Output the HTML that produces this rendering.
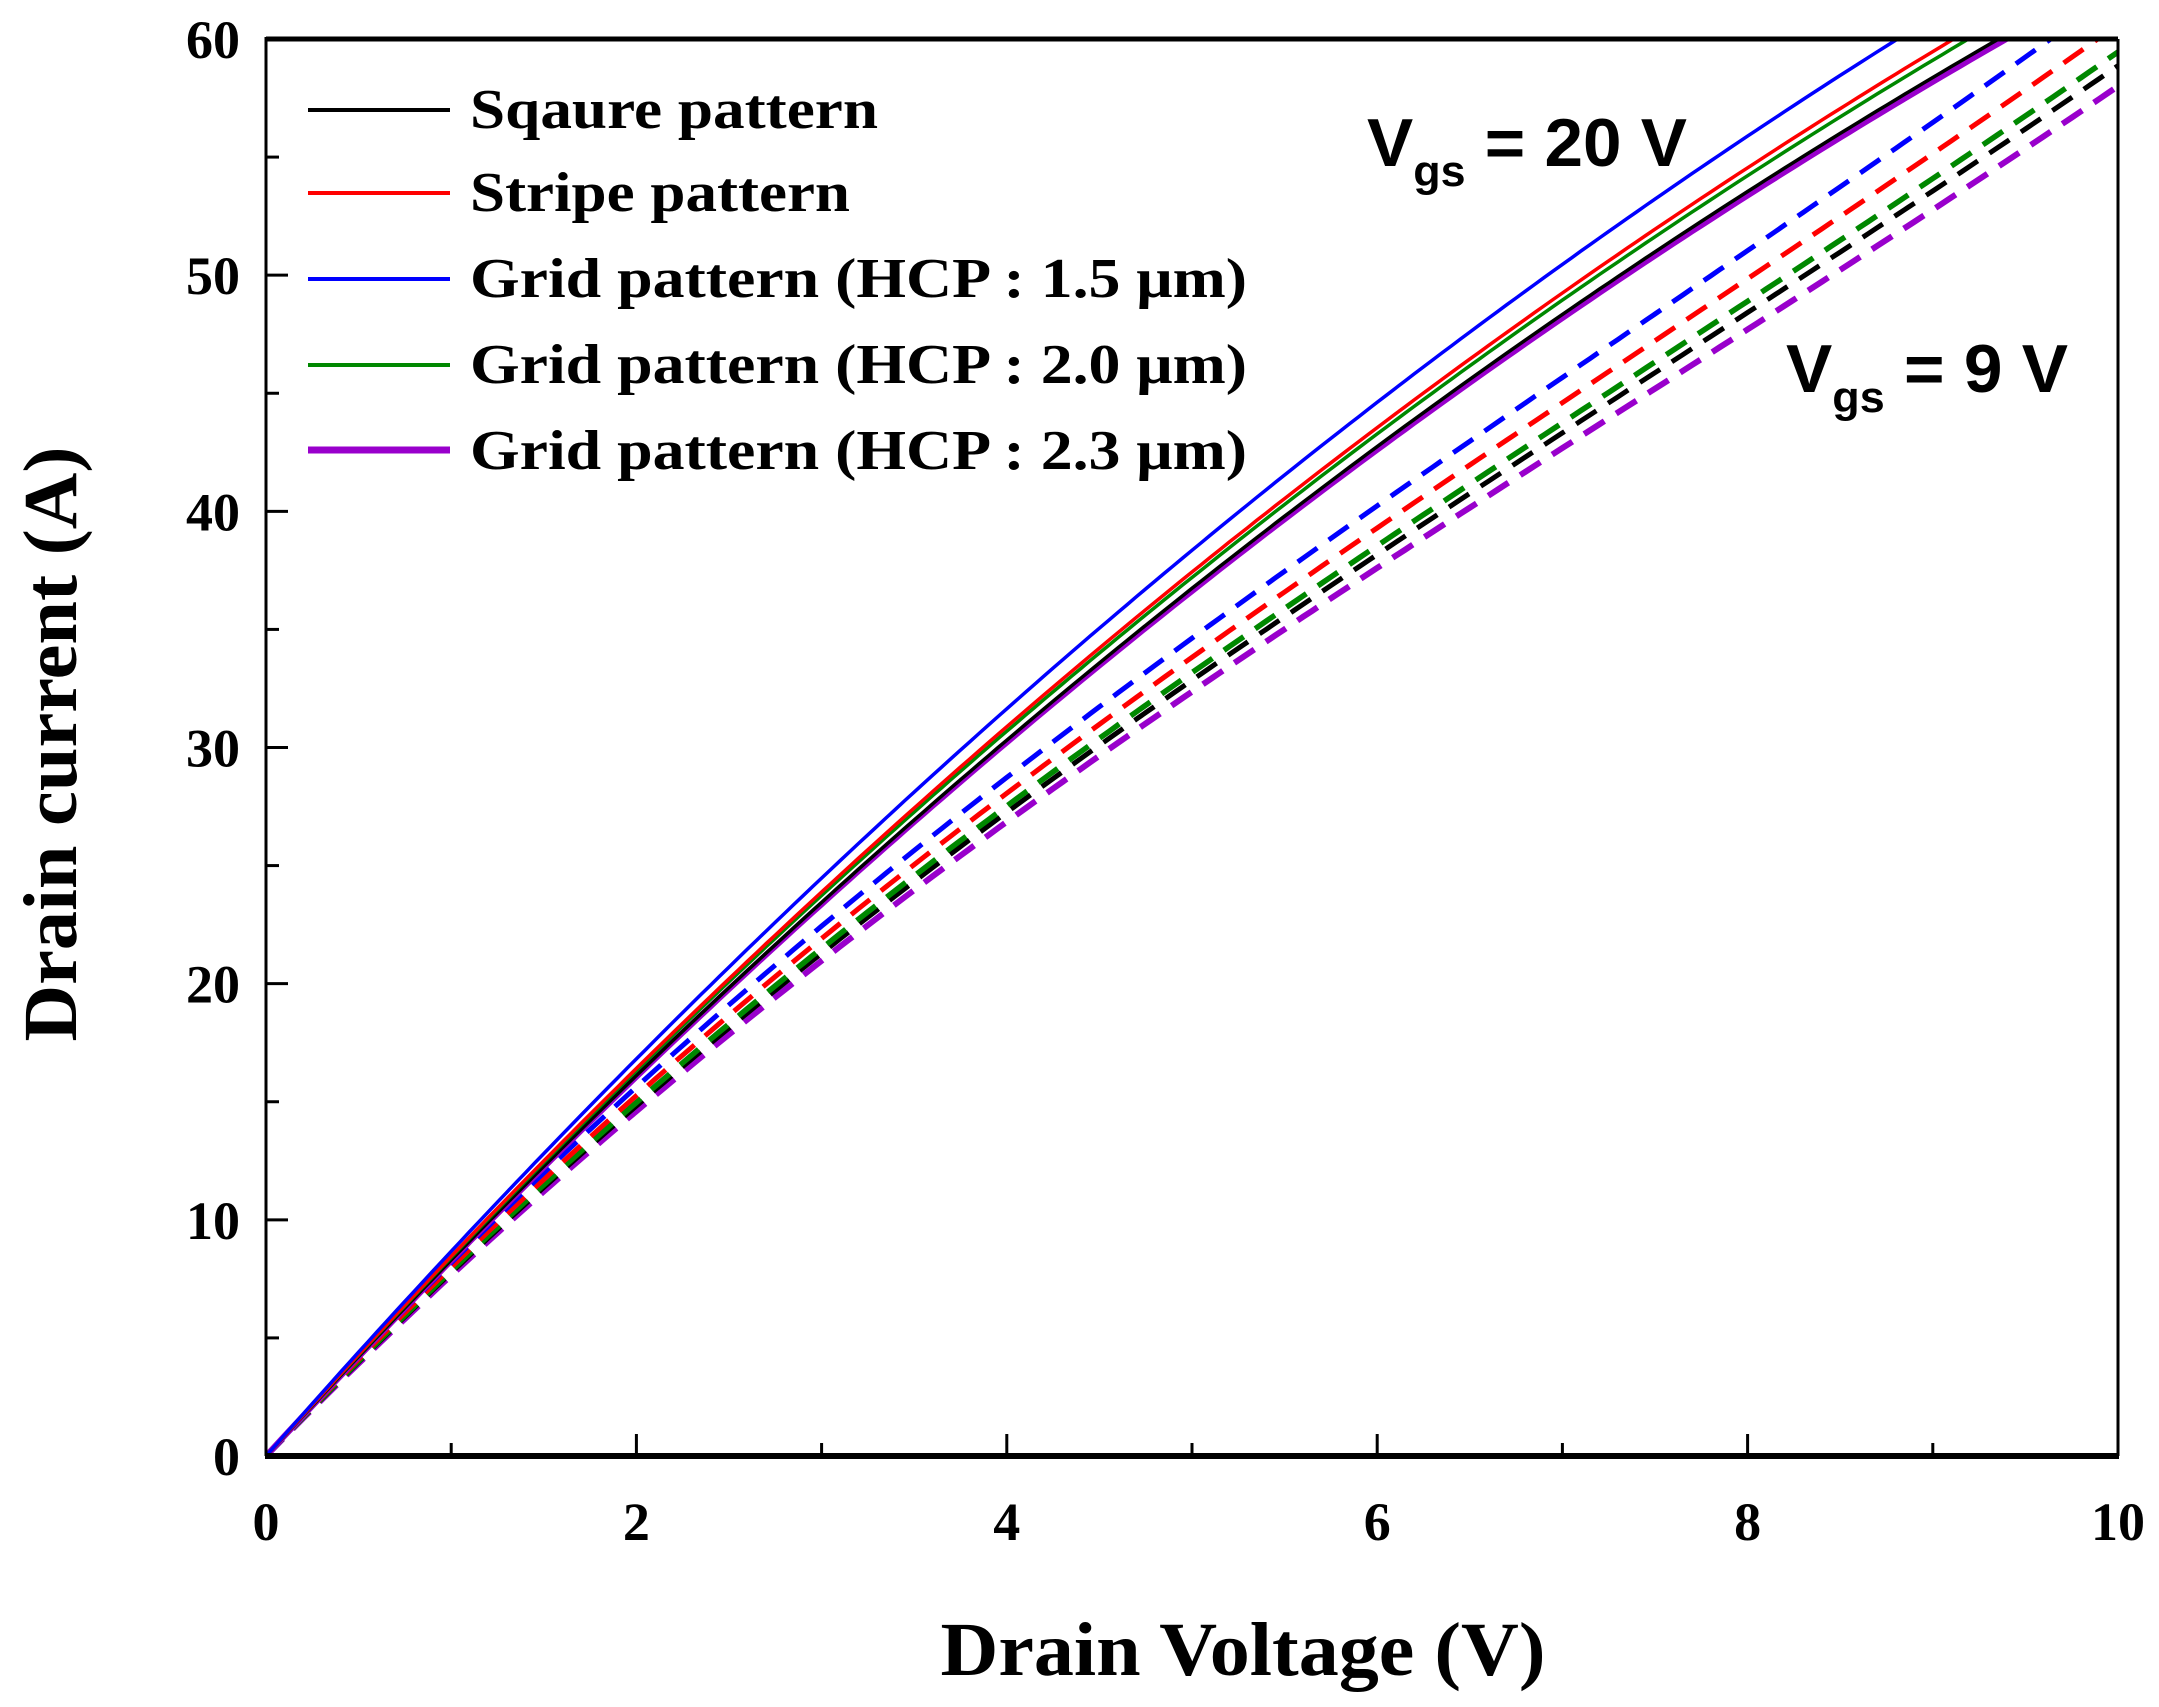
<!DOCTYPE html>
<html><head><meta charset="utf-8"><style>
html,body{margin:0;padding:0;background:#fff;}
svg{display:block;}
.t{font-family:"Liberation Serif",serif;font-weight:bold;fill:#000;}
.a{font-family:"Liberation Sans",sans-serif;font-weight:bold;fill:#000;}
</style></head><body>
<svg id="s" width="2159" height="1707" viewBox="0 0 2159 1707" xmlns="http://www.w3.org/2000/svg">
<defs><clipPath id="c"><rect x="266" y="39" width="1852" height="1417"/></clipPath></defs>
<g id="curves" clip-path="url(#c)"></g>
<g id="ax"></g>
<g class="t" font-size="56">
<line x1="308" y1="110" x2="450" y2="110" stroke="#000" stroke-width="4"/>
<text x="470" y="128" textLength="408" lengthAdjust="spacingAndGlyphs">Sqaure pattern</text>
<line x1="308" y1="193" x2="450" y2="193" stroke="#f00" stroke-width="4"/>
<text x="470" y="211" textLength="380" lengthAdjust="spacingAndGlyphs">Stripe pattern</text>
<line x1="308" y1="279" x2="450" y2="279" stroke="#00f" stroke-width="4"/>
<text x="470" y="297" textLength="777" lengthAdjust="spacingAndGlyphs">Grid pattern (HCP : 1.5 μm)</text>
<line x1="308" y1="365" x2="450" y2="365" stroke="#080" stroke-width="4"/>
<text x="470" y="383" textLength="777" lengthAdjust="spacingAndGlyphs">Grid pattern (HCP : 2.0 μm)</text>
<line x1="308" y1="450" x2="450" y2="450" stroke="#90c" stroke-width="7"/>
<text x="470" y="469" textLength="777" lengthAdjust="spacingAndGlyphs">Grid pattern (HCP : 2.3 μm)</text>
</g>
<text class="a" x="1367" y="166" font-size="68" textLength="320" lengthAdjust="spacingAndGlyphs">V<tspan font-size="44" dy="20">gs</tspan><tspan dy="-20"> = 20 V</tspan></text>
<text class="a" x="1786" y="392" font-size="68" textLength="282" lengthAdjust="spacingAndGlyphs">V<tspan font-size="44" dy="20">gs</tspan><tspan dy="-20"> = 9 V</tspan></text>
<text class="t" x="1243" y="1675" font-size="76" text-anchor="middle" textLength="605" lengthAdjust="spacingAndGlyphs">Drain Voltage (V)</text>
<text class="t" transform="translate(76,744) rotate(-90)" font-size="76" text-anchor="middle" textLength="595" lengthAdjust="spacingAndGlyphs">Drain current (A)</text>
</svg>
<script>
var L=266,R=2118,T=39,B=1456;
function X(v){return L+(R-L)*v/10;}
function Y(i){return B-(B-T)*i/60;}
var ns="http://www.w3.org/2000/svg";
function el(p,n,a){var e=document.createElementNS(ns,n);for(var k in a)e.setAttribute(k,a[k]);p.appendChild(e);return e;}
function sol(v){return 8.93*v-0.267*v*v+0.003*v*v*v;}
function das(v){return 8.03*v-0.400*v*v+0.0177*v*v*v;}
function path(fn,f){var d="";for(var v=0;v<=10.001;v+=0.05){d+=(v==0?"M":"L")+X(v).toFixed(1)+","+Y(fn(v)*f).toFixed(1);}return d;}
var g=document.getElementById("curves");
var dl=[["#90c",1.0,6],["#000",1.015,5],["#080",1.025,5.5],["#f00",1.045,5],["#00f",1.07,5]];
dl.forEach(function(s){el(g,"path",{d:path(das,s[1]),fill:"none",stroke:s[0],"stroke-width":s[2],"stroke-dasharray":"24,14"});});
var sl=[["#90c",0.955,6],["#000",0.958,3.5],["#080",0.97,3.5],["#f00",0.976,3.5],["#00f",1.0,3.5]];
sl.forEach(function(s){el(g,"path",{d:path(sol,s[1]),fill:"none",stroke:s[0],"stroke-width":s[2]});});
var ax=document.getElementById("ax");
el(ax,"line",{x1:L,y1:T,x2:R,y2:T,stroke:"#000","stroke-width":5});
el(ax,"line",{x1:R,y1:T,x2:R,y2:B,stroke:"#000","stroke-width":3});
el(ax,"line",{x1:L,y1:T-2,x2:L,y2:B,stroke:"#000","stroke-width":3});
el(ax,"line",{x1:L-1,y1:B,x2:R+1,y2:B,stroke:"#000","stroke-width":6});
for(var v=0;v<=10;v++){var maj=v%2==0;el(ax,"line",{x1:X(v),y1:B,x2:X(v),y2:B-(maj?22:13),stroke:"#000","stroke-width":3});
 if(maj){var t=el(ax,"text",{x:X(v),y:1540,"font-size":54,"text-anchor":"middle","class":"t"});t.textContent=v;}}
for(var i=0;i<=60;i+=5){var maj=i%10==0;el(ax,"line",{x1:L,y1:Y(i),x2:L+(maj?22:13),y2:Y(i),stroke:"#000","stroke-width":3});
 if(maj){var t=el(ax,"text",{x:240,y:Y(i)+19,"font-size":54,"text-anchor":"end","class":"t"});t.textContent=i;}}
</script>
</body></html>
